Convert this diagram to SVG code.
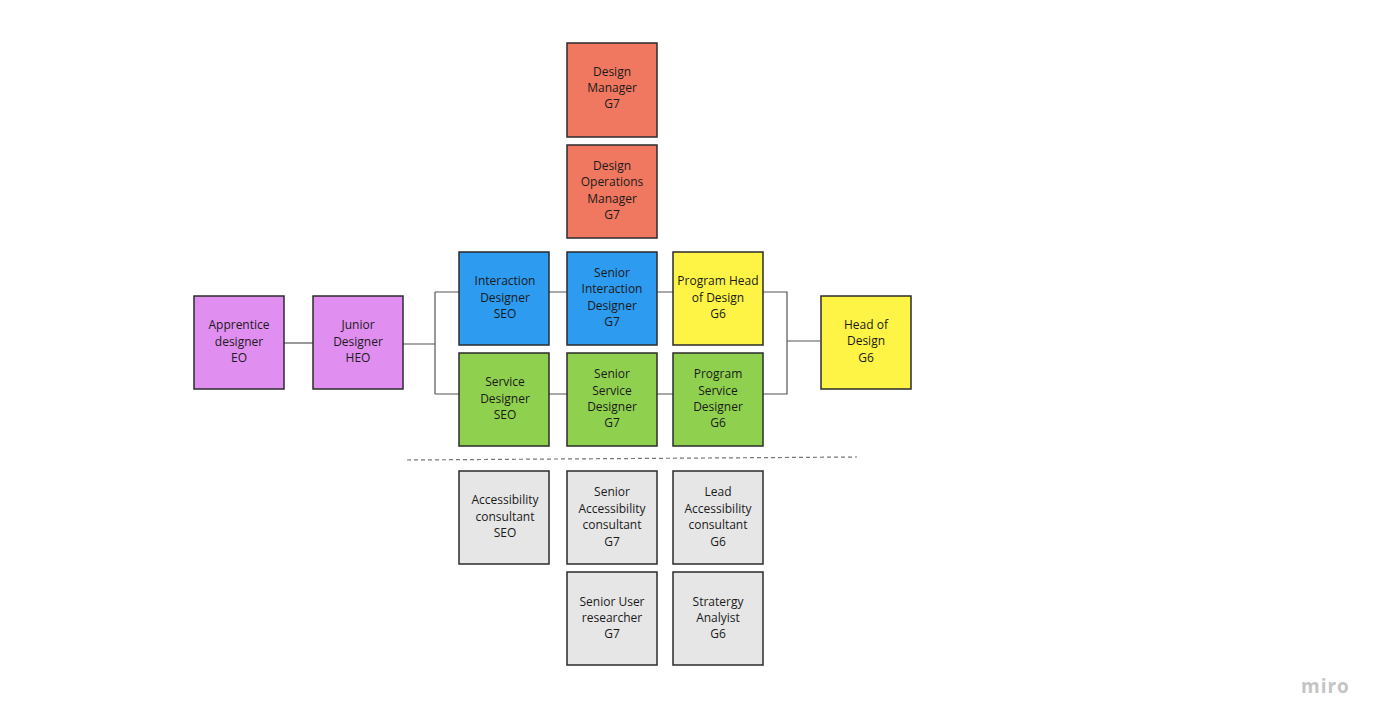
<svg xmlns="http://www.w3.org/2000/svg" width="1378" height="725" viewBox="0 0 1378 725">
<style>
.b{stroke:#2b2b2b;stroke-width:1.5}
.red{fill:#F07860}.blue{fill:#2D9BF0}.green{fill:#8FD14F}.yellow{fill:#FEF445}.purple{fill:#E08FF0}.grey{fill:#E6E6E6}
text{font-family:"Open Sans","Liberation Sans",sans-serif;font-size:12px;fill:#1a1a1a;text-anchor:middle}
.c{fill:none;stroke:#555;stroke-width:1.2}
.logo{font-family:"Open Sans","Liberation Sans",sans-serif;font-size:19px;font-weight:bold;fill:#c4c4c4;text-anchor:start;letter-spacing:1px}
</style>
<rect width="1378" height="725" fill="#fff"/>
<g id="connectors">
<path class="c" d="M284 343H313"/>
<path class="c" d="M403 344H435M435 292V394M435 292H459M435 394H459"/>
<path class="c" d="M549 292H567M657 292H673M549 394H567M657 394H673"/>
<path class="c" d="M763 292H787V394H763M787 341H820"/>
<path d="M407 460L857 457" stroke="#777" stroke-width="1.2" stroke-dasharray="4 3" fill="none"/>
</g>
<g id="design-manager"><rect class="b red" x="567" y="43" width="90" height="94"/><text x="612" y="76">Design</text><text x="612" y="92">Manager</text><text x="612" y="108">G7</text></g>
<g id="design-ops-manager"><rect class="b red" x="567" y="145" width="90" height="93"/><text x="612" y="170">Design</text><text x="612" y="186">Operations</text><text x="612" y="203">Manager</text><text x="612" y="219">G7</text></g>
<g id="interaction-designer"><rect class="b blue" x="459" y="252" width="90" height="93"/><text x="505" y="285">Interaction</text><text x="505" y="302">Designer</text><text x="505" y="318">SEO</text></g>
<g id="senior-interaction-designer"><rect class="b blue" x="567" y="252" width="90" height="93"/><text x="612" y="277">Senior</text><text x="612" y="293">Interaction</text><text x="612" y="310">Designer</text><text x="612" y="326">G7</text></g>
<g id="program-head"><rect class="b yellow" x="673" y="252" width="90" height="93"/><text x="718" y="285">Program Head</text><text x="718" y="302">of Design</text><text x="718" y="318">G6</text></g>
<g id="service-designer"><rect class="b green" x="459" y="353" width="90" height="93"/><text x="505" y="386">Service</text><text x="505" y="403">Designer</text><text x="505" y="419">SEO</text></g>
<g id="senior-service-designer"><rect class="b green" x="567" y="353" width="90" height="93"/><text x="612" y="378">Senior</text><text x="612" y="395">Service</text><text x="612" y="411">Designer</text><text x="612" y="427">G7</text></g>
<g id="program-service-designer"><rect class="b green" x="673" y="353" width="90" height="93"/><text x="718" y="378">Program</text><text x="718" y="395">Service</text><text x="718" y="411">Designer</text><text x="718" y="427">G6</text></g>
<g id="apprentice"><rect class="b purple" x="194" y="296" width="90" height="93"/><text x="239" y="329">Apprentice</text><text x="239" y="346">designer</text><text x="239" y="362">EO</text></g>
<g id="junior"><rect class="b purple" x="313" y="296" width="90" height="93"/><text x="358" y="329">Junior</text><text x="358" y="346">Designer</text><text x="358" y="362">HEO</text></g>
<g id="head-of-design"><rect class="b yellow" x="821" y="296" width="90" height="93"/><text x="866" y="329">Head of</text><text x="866" y="345">Design</text><text x="866" y="362">G6</text></g>
<g id="accessibility-consultant"><rect class="b grey" x="459" y="471" width="90" height="93"/><text x="505" y="504">Accessibility</text><text x="505" y="521">consultant</text><text x="505" y="537">SEO</text></g>
<g id="senior-accessibility"><rect class="b grey" x="567" y="471" width="90" height="93"/><text x="612" y="496">Senior</text><text x="612" y="513">Accessibility</text><text x="612" y="529">consultant</text><text x="612" y="546">G7</text></g>
<g id="lead-accessibility"><rect class="b grey" x="673" y="471" width="90" height="93"/><text x="718" y="496">Lead</text><text x="718" y="513">Accessibility</text><text x="718" y="529">consultant</text><text x="718" y="546">G6</text></g>
<g id="senior-user-researcher"><rect class="b grey" x="567" y="572" width="90" height="93"/><text x="612" y="606">Senior User</text><text x="612" y="622">researcher</text><text x="612" y="638">G7</text></g>
<g id="strategy-analyst"><rect class="b grey" x="673" y="572" width="90" height="93"/><text x="718" y="606">Stratergy</text><text x="718" y="622">Analyist</text><text x="718" y="638">G6</text></g>
<text class="logo" x="1301" y="693">miro</text>
</svg>
